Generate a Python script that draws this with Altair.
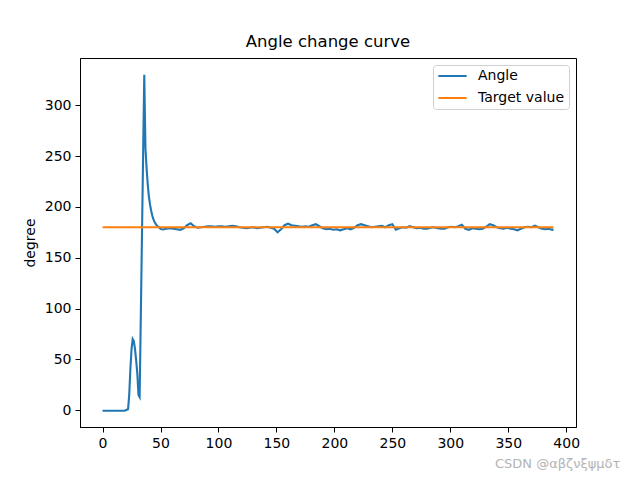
import altair as alt
import pandas as pd

# --- data ---
angle_x_early = list(range(0, 55))
angle_y_early = [
    -0.5, -0.5, -0.5, -0.5, -0.5, -0.5, -0.5, -0.5, -0.5, -0.5,
    -0.5, -0.5, -0.5, -0.5, -0.5, -0.5, -0.5, -0.5, -0.5, -0.5,
    0.0, 0.5, 1.0, 15.0, 40.0, 60.0, 70.0, 68.0, 60.0, 49.0,
    36.0, 15.0, 13.0, 92.0, 171.0, 251.0, 330.0, 258.0, 238.0, 222.0,
    210.0, 202.0, 196.0, 191.0, 187.5, 185.0, 183.0, 181.5, 180.5, 179.5,
    178.5, 178.0, 177.8, 178.0, 178.3,
]
angle_x_late = list(range(55, 389, 3)) + [389]
angle_y_late = [
    178.5, 179.0, 178.5, 178.0, 177.5, 179.0, 182.0, 184.0, 181.0, 179.5,
    180.0, 180.5, 181.0, 181.0, 180.5, 181.0, 181.0, 180.5, 181.0, 181.5,
    181.0, 180.0, 179.5, 179.0, 179.5, 180.0, 179.0, 179.5, 180.0, 180.5,
    179.5, 178.5, 175.0, 178.0, 182.0, 183.5, 182.0, 181.5, 181.0, 180.5,
    181.0, 180.5, 182.0, 183.0, 181.0, 179.0, 178.0, 178.5, 177.5, 178.0,
    177.0, 178.0, 179.0, 178.0, 179.5, 182.0, 183.0, 182.0, 181.0, 180.0,
    180.5, 181.0, 181.5, 180.0, 182.0, 183.0, 177.5, 179.0, 180.0, 179.5,
    181.0, 180.0, 179.0, 179.5, 178.5, 178.5, 179.5, 180.0, 179.0, 178.5,
    178.5, 180.0, 180.5, 180.0, 181.0, 182.5, 178.5, 177.5, 179.0, 178.5,
    178.0, 178.5, 180.5, 183.0, 182.0, 180.0, 179.0, 178.5, 179.5, 178.5,
    178.0, 177.0, 178.5, 180.0, 180.5, 180.0, 181.5, 180.0, 178.5, 178.0,
    178.5, 177.5, 178.0,
]
target_x = [0, 389]
target_y = [180, 180]

series_names = ["Angle", "Target value"]
series_colors = ["#1f77b4", "#ff7f0e"]
x_ticks = [0, 50, 100, 150, 200, 250, 300, 350, 400]
y_ticks = [0, 50, 100, 150, 200, 250, 300]
watermark = "CSDN @αβζνξψμδτ"

angle_df = pd.DataFrame({
    "x": angle_x_early + angle_x_late,
    "y": angle_y_early + angle_y_late,
    "series": "Angle",
})
target_df = pd.DataFrame({"x": target_x, "y": target_y, "series": "Target value"})

color = alt.Color(
    "series:N",
    scale=alt.Scale(domain=series_names, range=series_colors),
    legend=alt.Legend(
        title=None,
        orient="top-right",
        offset=7,
        symbolType="stroke",
        symbolSize=800,
        symbolStrokeWidth=2,
        labelFontSize=14,
        labelOffset=10,
        clipHeight=14,
        rowPadding=8,
        padding=4,
        strokeColor="#d0d0d0",
        fillColor="white",
        cornerRadius=3,
    ),
)

xenc = alt.X(
    "x:Q",
    scale=alt.Scale(domain=[-19.45, 408.45], nice=False, zero=False),
    axis=alt.Axis(values=x_ticks, title=None, grid=False),
)
yenc = alt.Y(
    "y:Q",
    scale=alt.Scale(domain=[-16.5, 346.5], nice=False, zero=False),
    axis=alt.Axis(values=y_ticks, title="degree", grid=False, titlePadding=7),
)

angle_line = alt.Chart(angle_df).mark_line(strokeWidth=2.1).encode(
    x=xenc, y=yenc, color=color
)
target_line = alt.Chart(target_df).mark_line(strokeWidth=2.1).encode(
    x=xenc, y=yenc, color=color
)

wm = alt.Chart(pd.DataFrame({"t": [watermark]})).mark_text(
    align="left", baseline="alphabetic", fontSize=13, color="#b4b4b4",
    font="DejaVu Sans",
).encode(text="t:N", x=alt.value(415), y=alt.value(410))

chart = alt.layer(angle_line, target_line, wm).properties(
    width=496,
    height=369,
    autosize="none",
    padding={"left": 80, "top": 58, "right": 64, "bottom": 53},
    title=alt.Title("Angle change curve", fontSize=16.5, fontWeight="normal",
                    offset=8, anchor="middle", color="black"),
).configure(font="DejaVu Sans").configure_view(
    stroke="black", strokeWidth=1
).configure_axis(
    domainColor="black", tickColor="black", labelColor="black",
    titleColor="black", labelFontSize=14, titleFontSize=14,
    titleFontWeight="normal", tickSize=5, labelPadding=4, domainWidth=1,
)

chart.save("out.html", embed_options={"renderer": "svg", "actions": False})
